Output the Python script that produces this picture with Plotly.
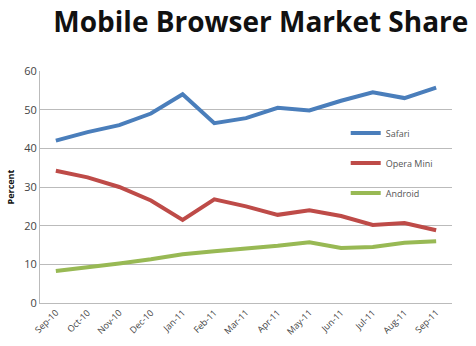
import plotly.graph_objects as go

months = ["Sep-10", "Oct-10", "Nov-10", "Dec-10", "Jan-11", "Feb-11", "Mar-11",
          "Apr-11", "May-11", "Jun-11", "Jul-11", "Aug-11", "Sep-11"]
safari = [42.0, 44.2, 46.0, 49.0, 54.0, 46.5, 47.8, 50.5, 49.8, 52.3, 54.5, 53.0, 55.7]
opera_mini = [34.2, 32.5, 30.0, 26.5, 21.5, 26.8, 25.0, 22.8, 24.0, 22.5, 20.2, 20.7, 18.8]
android = [8.3, 9.2, 10.2, 11.3, 12.6, 13.4, 14.0, 14.8, 15.7, 14.2, 14.5, 15.6, 16.0]

series = [("Safari", safari, "#4A7EBB"),
          ("Opera Mini", opera_mini, "#BE4B48"),
          ("Android", android, "#98B954")]

fig = go.Figure()
for i, (name, vals, col) in enumerate(series):
    fig.add_trace(go.Scatter(x=months, y=vals, mode="lines", name=name,
                             legendgroup=str(i),
                             line=dict(color=col, width=4)))

fig.update_layout(
    width=476, height=346,
    margin=dict(l=40, r=24, t=71, b=43, autoexpand=False),
    paper_bgcolor="white", plot_bgcolor="white",
    title=dict(text="<b>Mobile Browser Market Share</b>", x=0.548, xanchor="center",
               y=0.935, yanchor="middle",
               font=dict(family="Open Sans", size=28, color="#111")),
    font=dict(family="Open Sans", color="#444"),
    showlegend=True,
    legend=dict(x=0.742, y=0.795, xanchor="left", yanchor="top",
                font=dict(size=9, color="#555"), tracegroupgap=11,
                bgcolor="rgba(0,0,0,0)", itemwidth=30),
    xaxis=dict(tickangle=-45, tickfont=dict(size=9, color="#444"),
               showgrid=False, showline=True, linecolor="#bbb",
               range=[-0.5, 12.5], ticks="", automargin=False),
    yaxis=dict(range=[0, 60], dtick=10, tickfont=dict(size=11, color="#444"),
               gridcolor="#bbb", showline=True, linecolor="#bbb",
               zeroline=False, automargin=False,
               title=dict(text="<b>Percent</b>", font=dict(size=9, color="#111"),
                          standoff=8)),
)

fig.write_html("out.html")
